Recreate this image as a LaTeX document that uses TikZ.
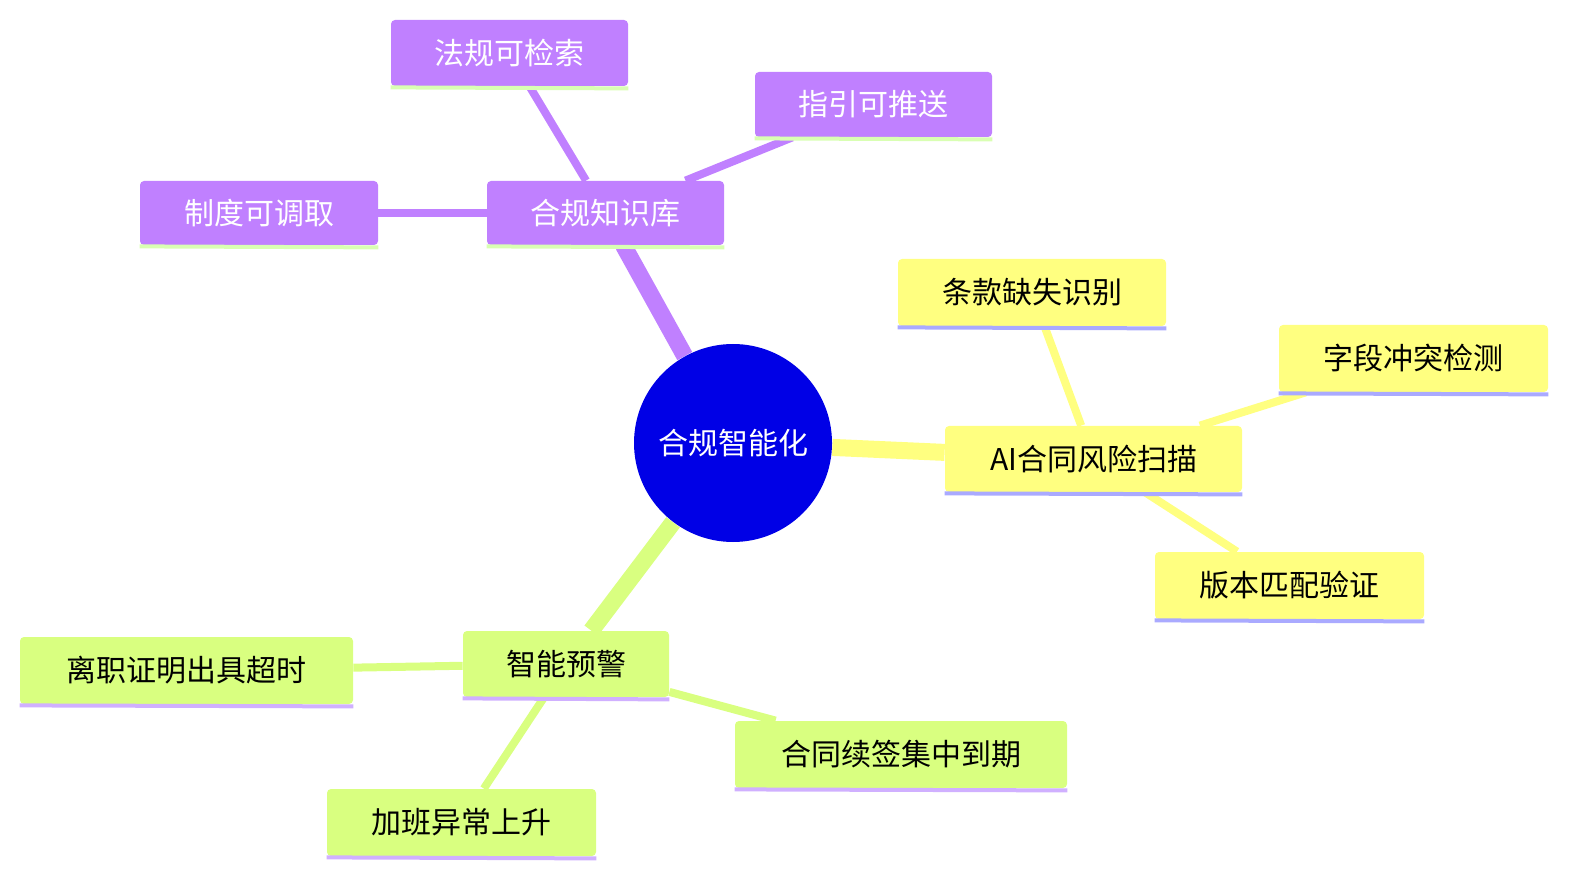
\documentclass[tikz,border=0pt]{standalone}
\usepackage{fontspec}
\setmainfont{Noto Sans CJK SC}
\usetikzlibrary{backgrounds}
\definecolor{pur}{HTML}{C080FF}
\definecolor{yel}{HTML}{FFFF80}
\definecolor{grn}{HTML}{D9FF80}
\definecolor{pline}{HTML}{D9FFB3}
\definecolor{yline}{HTML}{AAAAFF}
\definecolor{gline}{HTML}{D0B0FF}
\definecolor{cblue}{HTML}{0000E6}
\begin{document}
\begin{tikzpicture}[x=0.5pt,y=-0.5pt,
 box/.style={rounded corners=2pt,inner sep=0pt,font=\fontsize{15}{18}\selectfont},
 pbox/.style={box,fill=pur,text=white},
 ybox/.style={box,fill=yel,text=black},
 gbox/.style={box,fill=grn,text=black},
 main/.style={line width=8.5pt},
 leaf/.style={line width=4pt}]
\useasboundingbox (0,0) rectangle (1578,881);
\newcommand{\bx}[7]{%
 \node[#1,minimum width={(#4-#3)*0.5pt},minimum height={(#6-#5)*0.5pt}] (#2) at ({(#3+#4)/2},{(#5+#6)/2}) {#7};
}
\node[circle,fill=cblue,text=white,minimum size=99pt,inner sep=0pt,font=\fontsize{15}{18}\selectfont] (c) at (733,443) {合规智能化};
\bx{pbox}{k}{487}{724}{181}{245}{合规知识库}
\bx{pbox}{k1}{391}{628}{20}{86}{法规可检索}
\bx{pbox}{k2}{755}{992}{72}{137}{指引可推送}
\bx{pbox}{k3}{140}{378}{181}{245}{制度可调取}
\bx{ybox}{a}{945}{1242}{426}{492}{AI合同风险扫描}
\bx{ybox}{a1}{898}{1166}{259}{326}{条款缺失识别}
\bx{ybox}{a2}{1279}{1548}{325}{392}{字段冲突检测}
\bx{ybox}{a3}{1155}{1424}{552}{619}{版本匹配验证}
\bx{gbox}{w}{463}{669}{631}{697}{智能预警}
\bx{gbox}{w1}{20}{353}{637}{704}{离职证明出具超时}
\bx{gbox}{w2}{735}{1067}{721}{788}{合同续签集中到期}
\bx{gbox}{w3}{327}{596}{789}{856}{加班异常上升}
\begin{scope}[line width=2pt]
\foreach \n in {k,k1,k2,k3}{\draw[pline] (\n.south west)++(0,1) -- ([yshift=-1pt]\n.south east);}
\foreach \n in {a,a1,a2,a3}{\draw[yline] (\n.south west)++(0,1) -- ([yshift=-1pt]\n.south east);}
\foreach \n in {w,w1,w2,w3}{\draw[gline] (\n.south west)++(0,1) -- ([yshift=-1pt]\n.south east);}
\end{scope}
\begin{pgfonlayer}{background}
\draw[main,pur] (c) -- (k);
\draw[main,yel] (c) -- (a);
\draw[main,grn] (c) -- (w);
\draw[leaf,pur] (k) -- (k1); \draw[leaf,pur] (k) -- (k2); \draw[leaf,pur] (k) -- (k3);
\draw[leaf,yel] (a) -- (a1); \draw[leaf,yel] (a) -- (a2); \draw[leaf,yel] (a) -- (a3);
\draw[leaf,grn] (w) -- (w1); \draw[leaf,grn] (w) -- (w2); \draw[leaf,grn] (w) -- (w3);
\end{pgfonlayer}
\end{tikzpicture}
\end{document}
